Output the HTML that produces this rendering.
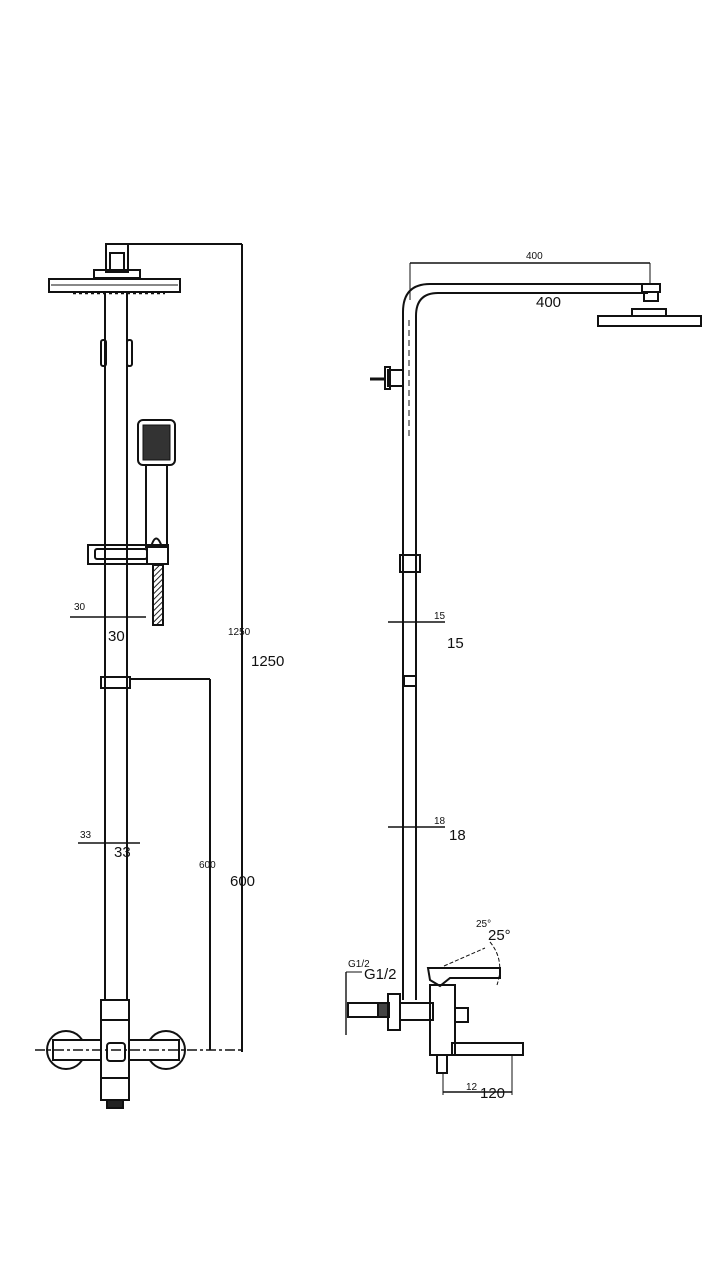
<!DOCTYPE html>
<html><head><style>html,body{margin:0;padding:0;background:#fff}svg{display:block}text{font-family:"Liberation Sans",sans-serif;fill:#111}</style></head>
<body>
<svg width="722" height="1280" viewBox="0 0 722 1280" xmlns="http://www.w3.org/2000/svg">
<defs><pattern id="h" width="4" height="4" patternUnits="userSpaceOnUse" patternTransform="rotate(45)"><rect width="4" height="4" fill="#fff"/><line x1="0" y1="0" x2="0" y2="4" stroke="#222" stroke-width="2"/></pattern></defs>
<g fill="none" stroke="#111" stroke-width="2">
<!-- LEFT VIEW -->
<rect x="106" y="244" width="22" height="28"/>
<rect x="110" y="253" width="14" height="17"/>
<rect x="94" y="270" width="46" height="8"/>
<rect x="49" y="279" width="131" height="13"/>
<line x1="51" y1="285" x2="178" y2="285" stroke-width="1"/>
<path d="M73 293 L165 293" stroke-dasharray="3 3" stroke-width="2.5"/>
<line x1="128" y1="244" x2="242" y2="244"/>
<line x1="242" y1="244" x2="242" y2="1052"/>
<line x1="105" y1="293" x2="105" y2="1000"/>
<line x1="127" y1="293" x2="127" y2="1000"/>
<rect x="101" y="340" width="5" height="26" rx="2"/>
<rect x="127" y="340" width="5" height="26" rx="2"/>
<rect x="138" y="420" width="37" height="45" rx="5"/>
<rect x="143" y="425" width="27" height="35" fill="#333" stroke-width="1"/>
<rect x="146" y="465" width="21" height="82"/>
<path d="M151 547 Q156 530 162 547"/>
<rect x="88" y="545" width="80" height="19"/>
<rect x="95" y="549" width="52" height="10" rx="2"/>
<line x1="147" y1="545" x2="147" y2="564"/>
<rect x="153" y="565" width="10" height="60" fill="url(#h)"/>
<line x1="70" y1="617" x2="146" y2="617" stroke-width="1.4"/>
<rect x="101" y="677" width="29" height="11"/>
<line x1="130" y1="679" x2="210" y2="679"/>
<line x1="210" y1="679" x2="210" y2="1050"/>
<line x1="78" y1="843" x2="140" y2="843" stroke-width="1.4"/>
<rect x="101" y="1000" width="28" height="100"/>
<line x1="101" y1="1020" x2="129" y2="1020"/>
<line x1="101" y1="1078" x2="129" y2="1078"/>
<rect x="107" y="1043" width="18" height="18" rx="3"/>
<circle cx="66" cy="1050" r="19"/>
<circle cx="166" cy="1050" r="19"/>
<rect x="53" y="1040" width="48" height="20" fill="#fff"/>
<rect x="129" y="1040" width="50" height="20" fill="#fff"/>
<rect x="107" y="1100" width="16" height="8" fill="#222"/>
<line x1="35" y1="1050" x2="242" y2="1050" stroke-width="1.4" stroke-dasharray="10 3 3 3"/>
<!-- RIGHT VIEW -->
<path d="M403 1000 L403 312 Q403 284 430 284 L648 284"/>
<path d="M416 1000 L416 316 Q416 293 438 293 L648 293"/>
<line x1="409" y1="320" x2="409" y2="440" stroke-dasharray="6 4" stroke-width="1"/>
<rect x="642" y="284" width="18" height="8"/>
<rect x="644" y="292" width="14" height="9"/>
<rect x="632" y="309" width="34" height="7"/>
<rect x="598" y="316" width="103" height="10"/>
<line x1="410" y1="263" x2="650" y2="263" stroke-width="1.4"/>
<line x1="410" y1="263" x2="410" y2="300" stroke-width="1"/>
<line x1="650" y1="263" x2="650" y2="284" stroke-width="1"/>
<rect x="388" y="370" width="15" height="16"/>
<rect x="385" y="367" width="5" height="22"/>
<line x1="370" y1="379" x2="386" y2="379" stroke-width="3"/>
<rect x="400" y="555" width="20" height="17"/>
<rect x="404" y="676" width="12" height="10"/>
<line x1="388" y1="622" x2="445" y2="622" stroke-width="1.4"/>
<line x1="388" y1="827" x2="445" y2="827" stroke-width="1.4"/>
<!-- mixer -->
<rect x="348" y="1003" width="30" height="14"/>
<rect x="378" y="1003" width="11" height="14" fill="#444"/>
<rect x="388" y="994" width="12" height="36"/>
<rect x="400" y="1003" width="33" height="17"/>
<rect x="430" y="985" width="25" height="70"/>
<rect x="455" y="1008" width="13" height="14"/>
<path d="M428 968 L500 968 L500 978 L450 978 L440 986 L430 980 Z"/>
<rect x="452" y="1043" width="71" height="12"/>
<rect x="437" y="1055" width="10" height="18"/>
<path d="M444 966 L485 948" stroke-dasharray="4 2" stroke-width="1"/>
<path d="M490 942 Q505 960 497 985" stroke-dasharray="4 2" stroke-width="1"/>
<line x1="443" y1="1073" x2="443" y2="1095" stroke-width="1"/>
<line x1="512" y1="1055" x2="512" y2="1095" stroke-width="1"/>
<line x1="443" y1="1092" x2="512" y2="1092" stroke-width="1.4"/>
<line x1="346" y1="972" x2="346" y2="1035" stroke-width="1.4"/>
<line x1="346" y1="972" x2="362" y2="972" stroke-width="1"/>
</g>
<g font-size="10">
<text x="74" y="610">30</text><text x="80" y="838">33</text>
<text x="228" y="635">1250</text><text x="199" y="868">600</text>
<text x="526" y="259">400</text><text x="434" y="619">15</text><text x="434" y="824">18</text>
<text x="348" y="967">G1/2</text><text x="476" y="927">25°</text><text x="466" y="1090">12</text>
</g>
<g font-size="15">
<text x="108" y="641">30</text><text x="114" y="857">33</text>
<text x="251" y="666">1250</text><text x="230" y="886">600</text>
<text x="536" y="307">400</text><text x="447" y="648">15</text><text x="449" y="840">18</text>
<text x="364" y="979">G1/2</text><text x="488" y="940">25°</text><text x="480" y="1098">120</text>
</g>
</svg>
</body></html>
